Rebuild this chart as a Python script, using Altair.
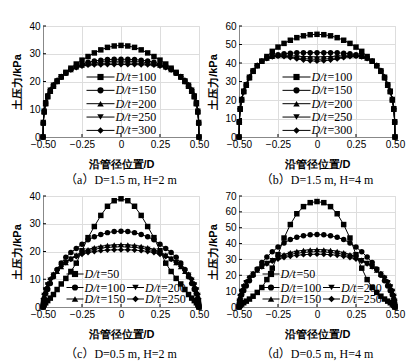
import altair as alt
import pandas as pd

# ---------------- data ----------------
X_POS = [-0.5, -0.4981, -0.4924, -0.483, -0.4698, -0.4532, -0.433, -0.4096, -0.383,
         -0.3536, -0.3214, -0.2868, -0.25, -0.2113, -0.171, -0.1294, -0.0868, -0.0436,
         0.0, 0.0436, 0.0868, 0.1294, 0.171, 0.2113, 0.25, 0.2868, 0.3214, 0.3536,
         0.383, 0.4096, 0.433, 0.4532, 0.4698, 0.483, 0.4924, 0.4981, 0.5]
X_TICKS = [-0.5, -0.25, 0, 0.25, 0.5]

A_LABELS = ["100", "150", "200", "250", "300"]
a100 = [0, 5, 9, 12, 14.5, 16.5, 18.3, 20, 21.7, 23.3, 24.8, 26.3, 27.7, 29, 30.3, 31.4, 32.3, 32.8, 33,
        32.8, 32.3, 31.4, 30.3, 29, 27.7, 26.3, 24.8, 23.3, 21.7, 20, 18.3, 16.5, 14.5, 12, 9, 5, 0]
a150 = [0, 5, 9, 12, 14.5, 16.5, 18.3, 20, 21.5, 23, 24.3, 25.3, 26.2, 26.9, 27.4, 27.7, 27.9, 28, 28,
        28, 27.9, 27.7, 27.4, 26.9, 26.2, 25.3, 24.3, 23, 21.5, 20, 18.3, 16.5, 14.5, 12, 9, 5, 0]
a200 = [0, 5.2, 9.2, 12.2, 14.7, 16.7, 18.5, 20.1, 21.6, 23, 24.2, 25.2, 25.9, 26.4, 26.8, 27, 27.2, 27.3, 27.3,
        27.3, 27.2, 27, 26.8, 26.4, 25.9, 25.2, 24.2, 23, 21.6, 20.1, 18.5, 16.7, 14.7, 12.2, 9.2, 5.2, 0]
a250 = [0, 5.3, 9.4, 12.4, 14.9, 16.9, 18.7, 20.3, 21.7, 23, 24.2, 25.1, 25.7, 26.1, 26.3, 26.5, 26.6, 26.7, 26.7,
        26.7, 26.6, 26.5, 26.3, 26.1, 25.7, 25.1, 24.2, 23, 21.7, 20.3, 18.7, 16.9, 14.9, 12.4, 9.4, 5.3, 0]
a300 = [0, 5.4, 9.6, 12.6, 15.1, 17.1, 18.9, 20.5, 21.8, 23.1, 24.2, 25, 25.6, 25.9, 26, 26, 26.1, 26.1, 26.1,
        26.1, 26.1, 26, 26, 25.9, 25.6, 25, 24.2, 23.1, 21.8, 20.5, 18.9, 17.1, 15.1, 12.6, 9.6, 5.4, 0]

B_LABELS = ["100", "150", "200", "250", "300"]
b100 = [0, 8, 15, 20, 24.5, 28, 32, 35.5, 38.5, 41, 43.5, 46.3, 48.6, 50.6, 52.3, 53.7, 54.7, 55.3, 55.5,
        55.3, 54.7, 53.7, 52.3, 50.6, 48.6, 46.3, 43.5, 41, 38.5, 35.5, 32, 28, 24.5, 20, 15, 8, 0]
b150 = [0, 8, 15, 20, 24.5, 28, 32, 35.5, 38.5, 41, 42.7, 43.8, 44.5, 45, 45.3, 45.5, 45.6, 45.6, 45.6,
        45.6, 45.6, 45.5, 45.3, 45, 44.5, 43.8, 42.7, 41, 38.5, 35.5, 32, 28, 24.5, 20, 15, 8, 0]
b200 = [0, 8.2, 15.2, 20.2, 24.7, 28.2, 32.2, 35.6, 38.6, 41, 42.6, 43.5, 43.9, 44, 43.9, 43.7, 43.5, 43.4, 43.3,
        43.4, 43.5, 43.7, 43.9, 44, 43.9, 43.5, 42.6, 41, 38.6, 35.6, 32.2, 28.2, 24.7, 20.2, 15.2, 8.2, 0]
b250 = [0, 8.4, 15.4, 20.4, 24.9, 28.4, 32.4, 35.8, 38.7, 41, 42.5, 43.4, 43.8, 43.7, 43.3, 42.8, 42.4, 42.1, 42,
        42.1, 42.4, 42.8, 43.3, 43.7, 43.8, 43.4, 42.5, 41, 38.7, 35.8, 32.4, 28.4, 24.9, 20.4, 15.4, 8.4, 0]
b300 = [0, 8.6, 15.6, 20.6, 25.1, 28.6, 32.6, 36, 38.8, 41, 42.4, 43.3, 43.7, 43.5, 42.9, 42.2, 41.6, 41.2, 41,
        41.2, 41.6, 42.2, 42.9, 43.5, 43.7, 43.3, 42.4, 41, 38.8, 36, 32.6, 28.6, 25.1, 20.6, 15.6, 8.6, 0]

C_LABELS = ["50", "100", "150", "200", "250"]
c50 = [0, 0.3, 0.8, 1.5, 2.3, 3.2, 4.5, 6.3, 8.3, 10.3, 12.8, 15.8, 20.3, 25, 29, 33, 36.3, 38.3, 39,
       38.3, 36.3, 33, 29, 25, 20.3, 15.8, 12.8, 10.3, 8.3, 6.3, 4.5, 3.2, 2.3, 1.5, 0.8, 0.3, 0]
c100 = [0, 1.6, 3.2, 4.8, 6.3, 8.5, 10.9, 13.5, 15.9, 17.9, 19.6, 21.1, 22.6, 24.2, 25.3, 26.1, 26.8, 27.2, 27.3,
        27.2, 26.8, 26.1, 25.3, 24.2, 22.6, 21.1, 19.6, 17.9, 15.9, 13.5, 10.9, 8.5, 6.3, 4.8, 3.2, 1.6, 0]
c150 = [0, 2, 3.9, 5.8, 7.6, 9.3, 11.2, 12.8, 14.5, 16, 17.4, 18.7, 19.8, 20.7, 21.4, 21.9, 22.2, 22.4, 22.5,
        22.4, 22.2, 21.9, 21.4, 20.7, 19.8, 18.7, 17.4, 16, 14.5, 12.8, 11.2, 9.3, 7.6, 5.8, 3.9, 2, 0]
c200 = [0, 2.3, 4.2, 6.2, 8, 9.7, 11.5, 13, 14.6, 16, 17.3, 18.4, 19.4, 20.2, 20.8, 21.2, 21.5, 21.6, 21.7,
        21.6, 21.5, 21.2, 20.8, 20.2, 19.4, 18.4, 17.3, 16, 14.6, 13, 11.5, 9.7, 8, 6.2, 4.2, 2.3, 0]
c250 = [0, 2.5, 4.5, 6.5, 8.3, 10, 11.7, 13.2, 14.7, 16, 17.2, 18.2, 19, 19.6, 20, 20.3, 20.5, 20.6, 20.6,
        20.6, 20.5, 20.3, 20, 19.6, 19, 18.2, 17.2, 16, 14.7, 13.2, 11.7, 10, 8.3, 6.5, 4.5, 2.5, 0]

D_LABELS = ["50", "100", "150", "200", "250"]
d50 = [0, 0.5, 1, 1.8, 2.7, 3.7, 5, 6.8, 9.2, 12.3, 17.3, 24.5, 33, 43.5, 52, 58.8, 63.3, 65.8, 66.5,
       65.8, 63.3, 58.8, 52, 43.5, 33, 24.5, 17.3, 12.3, 9.2, 6.8, 5, 3.7, 2.7, 1.8, 1, 0.5, 0]
d100 = [0, 2.5, 5, 7.5, 10.3, 13.3, 16.5, 20, 24, 28, 31.5, 34.8, 37.8, 40.4, 42.5, 44, 45, 45.5, 45.7,
        45.5, 45, 44, 42.5, 40.4, 37.8, 34.8, 31.5, 28, 24, 20, 16.5, 13.3, 10.3, 7.5, 5, 2.5, 0]
d150 = [0, 3.2, 6.3, 9.3, 12.2, 15, 18, 20.6, 23.2, 25.6, 27.8, 29.8, 31.6, 33.1, 34.3, 35.2, 35.8, 36.1, 36.2,
        36.1, 35.8, 35.2, 34.3, 33.1, 31.6, 29.8, 27.8, 25.6, 23.2, 20.6, 18, 15, 12.2, 9.3, 6.3, 3.2, 0]
d200 = [0, 3.6, 6.8, 9.9, 12.8, 15.5, 18.3, 20.8, 23.3, 25.5, 27.5, 29.3, 30.9, 32.2, 33.2, 33.9, 34.4, 34.7, 34.8,
        34.7, 34.4, 33.9, 33.2, 32.2, 30.9, 29.3, 27.5, 25.5, 23.3, 20.8, 18.3, 15.5, 12.8, 9.9, 6.8, 3.6, 0]
d250 = [0, 4, 7.3, 10.4, 13.3, 16, 18.6, 21, 23.3, 25.4, 27.3, 28.9, 30.2, 31.2, 32, 32.6, 33, 33.2, 33.3,
        33.2, 33, 32.6, 32, 31.2, 30.2, 28.9, 27.3, 25.4, 23.3, 21, 18.6, 16, 13.3, 10.4, 7.3, 4, 0]

CAPTIONS = ["（a）D=1.5 m, H=2 m", "（b）D=1.5 m, H=4 m",
            "（c）D=0.5 m, H=2 m", "（d）D=0.5 m, H=4 m"]
Y_MAX = [40, 60, 40, 70]

# ---------------- style / layout ----------------
SHAPES = ["square", "circle", "triangle-up", "triangle-down", "diamond"]
SIZES = [30, 30, 34, 34, 34]
W, H = 156, 111
SERIF = "Liberation Serif"
MIXED = "Liberation Serif, Noto Sans CJK SC"
FS = 12
CAP_OFFSET = [6, 6, 10, 10]

# legend slots: (marker centre x, row y, half line length), in plot pixels
LEG_TOP = [(57.5, 51 + 13.35 * i, 14) for i in range(5)]
LEG_BOT = [(32, 78, 8.5), (32, 91.5, 8.5), (32, 103, 8.5), (92.5, 91.5, 8.5), (92.5, 103, 8.5)]

XLABEL_EXPR = "datum.value == 0 ? '0' : format(datum.value, '.2f')"


def panel(labels, series, ymax, caption, slots, cap_offset):
    rows = []
    for lab, ys in zip(labels, series):
        for i, (xv, yv) in enumerate(zip(X_POS, ys)):
            rows.append({"x": xv, "y": yv, "s": lab, "i": i})
    df = pd.DataFrame(rows)
    yt = list(range(0, ymax + 1, 10))
    xs = alt.Scale(domain=[-0.5, 0.5], nice=False, zero=False)
    ysc = alt.Scale(domain=[0, ymax], nice=False)
    X = alt.X("x:Q", scale=xs, axis=alt.Axis(
        values=X_TICKS, labelExpr=XLABEL_EXPR, title="沿管径位置/D",
        ticks=False, tickSize=0, labelPadding=2, titlePadding=9,
        labelFlush=False, labelOverlap=False))
    Y = alt.Y("y:Q", scale=ysc, axis=alt.Axis(
        values=yt, format="d", title="土压力/kPa", ticks=False, tickSize=0,
        labelPadding=3, titlePadding=6, labelFlush=False, labelOverlap=False))
    base = alt.Chart(df)
    line = base.mark_line(color="black", strokeWidth=1).encode(
        x=X, y=Y, detail="s:N", order="i:Q")
    layers = [line]
    for lab, shp, sz in zip(labels, SHAPES, SIZES):
        layers.append(base.transform_filter(alt.datum.s == lab).mark_point(
            filled=True, color="black", opacity=1, size=sz, shape=shp).encode(x=X, y=Y))
    # inward tick marks
    xt = alt.Chart(pd.DataFrame({"x": X_TICKS})).mark_rule(color="black", strokeWidth=1).encode(
        x=X, y=alt.value(H - 3), y2=alt.value(H))
    ytk = alt.Chart(pd.DataFrame({"y": yt})).mark_rule(color="black", strokeWidth=1).encode(
        y=Y, x=alt.value(0), x2=alt.value(3))
    layers += [xt, ytk]
    one = pd.DataFrame({"k": [0]})
    for lab, shp, sz, (cx, cy, hl) in zip(labels, SHAPES, SIZES, slots):
        layers.append(alt.Chart(one).mark_rule(color="black", strokeWidth=1).encode(
            x=alt.value(cx - hl), x2=alt.value(cx + hl), y=alt.value(cy)))
        layers.append(alt.Chart(one).mark_point(filled=True, color="black", opacity=1,
                                                size=sz + 8, shape=shp).encode(
            x=alt.value(cx), y=alt.value(cy)))
        layers.append(alt.Chart(one).mark_text(text="D/t", font=SERIF, fontStyle="italic",
                                               fontSize=FS, align="left", baseline="middle",
                                               color="black").encode(
            x=alt.value(cx + hl + 1), y=alt.value(cy)))
        layers.append(alt.Chart(one).mark_text(text="=" + lab, font=SERIF, fontSize=FS,
                                               align="left", baseline="middle",
                                               color="black").encode(
            x=alt.value(cx + hl + 17), y=alt.value(cy)))
    return alt.layer(*layers).properties(
        width=W, height=H,
        title=alt.TitleParams(caption, orient="bottom", font=MIXED, fontSize=FS,
                              fontWeight="normal", offset=cap_offset, color="black"))


pa = panel(A_LABELS, [a100, a150, a200, a250, a300], Y_MAX[0], CAPTIONS[0], LEG_TOP, CAP_OFFSET[0])
pb = panel(B_LABELS, [b100, b150, b200, b250, b300], Y_MAX[1], CAPTIONS[1], LEG_TOP, CAP_OFFSET[1])
pc = panel(C_LABELS, [c50, c100, c150, c200, c250], Y_MAX[2], CAPTIONS[2], LEG_BOT, CAP_OFFSET[2])
pd_ = panel(D_LABELS, [d50, d100, d150, d200, d250], Y_MAX[3], CAPTIONS[3], LEG_BOT, CAP_OFFSET[3])

chart = alt.concat(pa, pb, pc, pd_, columns=2, spacing={"row": 59, "column": 40},
                   bounds="flush").properties(
    padding={"left": 3, "top": 12, "right": 0, "bottom": 0}
).configure_view(stroke=None).configure_axis(
    domainColor="black", domainWidth=1, grid=False,
    labelFont=SERIF, labelFontSize=FS, labelColor="black",
    titleFont=MIXED, titleFontSize=FS, titleFontWeight="normal", titleColor="black"
).configure(background="white")

chart.save("out.html", embed_options={"renderer": "svg", "actions": False})
